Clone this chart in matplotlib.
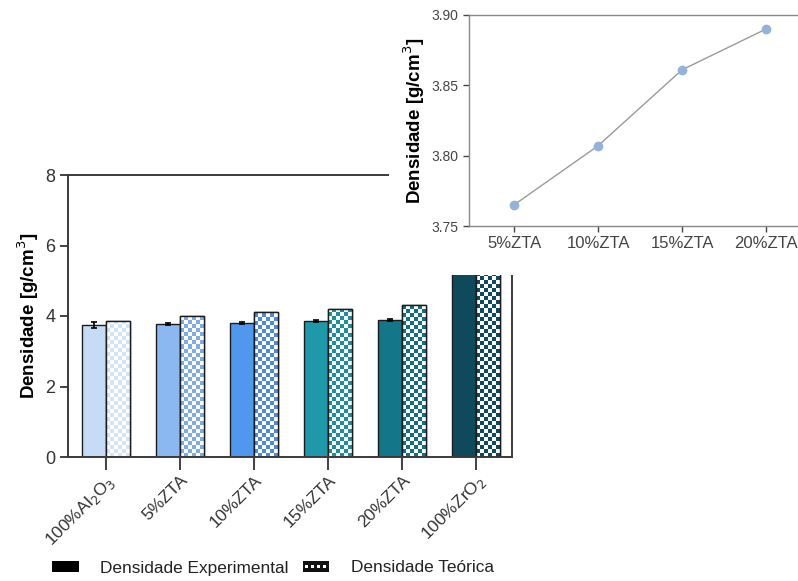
import numpy as np
import matplotlib
matplotlib.use("Agg")
import matplotlib.pyplot as plt
from matplotlib.patches import Patch, Rectangle
from matplotlib.legend_handler import HandlerBase

plt.rcParams['font.family'] = ['Liberation Sans', 'DejaVu Sans']

# bar chart data
categories = ["100%Al$_2$O$_3$", "5%ZTA", "10%ZTA", "15%ZTA", "20%ZTA", "100%ZrO$_2$"]
dens_exp = [3.75, 3.765, 3.807, 3.861, 3.890, 5.95]
dens_exp_err = [0.09, 0.03, 0.03, 0.02, 0.02, 0.0]
dens_teo = [3.86, 4.01, 4.10, 4.21, 4.31, 6.05]
exp_colors = ["#c6dcf6", "#8cb8f2", "#5098ee", "#1f98a9", "#137689", "#0e4a5c"]
teo_colors = ["#d3e4f9", "#7eaceb", "#4a8ae2", "#1a8f9e", "#126f82", "#0e4a5c"]

# inset data
inset_labels = ["5%ZTA", "10%ZTA", "15%ZTA", "20%ZTA"]
inset_vals = [3.765, 3.807, 3.861, 3.890]

W, H = 798, 581
fig = plt.figure(figsize=(W / 100, H / 100), dpi=100)

def px_box(x0, y0, x1, y1):
    # pixel box (top-left origin) -> figure fraction [l, b, w, h]
    return [x0 / W, 1 - y1 / H, (x1 - x0) / W, (y1 - y0) / H]

ax = fig.add_axes(px_box(68, 175, 512, 457))
ax.set_zorder(0)

x = np.arange(len(categories))
bw = 0.32
ax.bar(x - bw / 2, dens_exp, bw, color=exp_colors, edgecolor="#1b1b1b", linewidth=1.0, zorder=2)
ax.errorbar(x - bw / 2, dens_exp, yerr=dens_exp_err, fmt="none", ecolor="black",
            elinewidth=1.2, capsize=2.5, capthick=1.2, zorder=3)
teo_bars = ax.bar(x + bw / 2, dens_teo, bw, color="white", edgecolor="#1b1b1b", linewidth=1.0, zorder=2)

# checkerboard fill for the theoretical bars
px_per_x = (512 - 68) / 6.0
px_per_y = (457 - 175) / 8.0
sq = 4.0
for bar, c in zip(teo_bars, teo_colors):
    x0, w, h = bar.get_x(), bar.get_width(), bar.get_height()
    nx = int(round(w * px_per_x / sq))
    ny = int(np.ceil(h * px_per_y / sq))
    rgb = np.array(matplotlib.colors.to_rgb(c))
    grid = (np.add.outer(np.arange(ny), np.arange(nx)) % 2).astype(float)
    img = np.ones((ny, nx, 3))
    img[grid == 1] = rgb
    top = ny * sq / px_per_y
    im = ax.imshow(img, extent=(x0, x0 + w, 0, top), origin="lower",
                   interpolation="nearest", aspect="auto", zorder=2.1)
    im.set_clip_path(bar)
    ax.bar(bar.get_x() + w / 2, h, w, fill=False, edgecolor="#1b1b1b", linewidth=1.0, zorder=2.2)

ax.set_xlim(-0.514, 5.486)
ax.set_ylim(0, 8)
ax.set_yticks([0, 2, 4, 6, 8])
ax.set_xticks(x)
ax.set_xticklabels(categories, rotation=45, ha="right", rotation_mode="anchor", fontsize=12.5, color="#222")
ax.tick_params(axis="y", labelsize=13, colors="#333", length=6, width=1.3, pad=3)
ax.tick_params(axis="x", length=9, width=1.3, colors="#333", pad=2)
for s in ax.spines.values():
    s.set_linewidth(1.4)
    s.set_color("#3a3a3a")
ax.set_ylabel("Densidade [g/cm$^3$]", fontsize=13.5, fontweight="bold", labelpad=3)

# white block behind the inset
cover = fig.add_axes(px_box(389, 0, 798, 275))
cover.set_zorder(1)
cover.axis("off")
cover.add_patch(Rectangle((0, 0), 1, 1, transform=cover.transAxes, color="white"))

# inset line chart
ins = fig.add_axes(px_box(469, 15, 798, 226))
ins.set_zorder(2)
xi = np.arange(len(inset_labels))
ins.plot(xi, inset_vals, color="#9a9a9a", linewidth=1.0, marker="o", markersize=6,
         markerfacecolor="#93b3dc", markeredgecolor="#93b3dc", zorder=3)
ins.set_xlim(-0.536, 3.381)
ins.set_ylim(3.75, 3.90)
ins.set_yticks([3.75, 3.80, 3.85, 3.90])
ins.set_yticklabels(["3.75", "3.80", "3.85", "3.90"])
ins.set_xticks(xi)
ins.set_xticklabels(inset_labels)
ins.tick_params(axis="y", labelsize=10, colors="#444", length=4, width=1.0)
ins.tick_params(axis="x", labelsize=12, colors="#444", length=4, width=1.0)
ins.spines["right"].set_visible(False)
for s in ["left", "top", "bottom"]:
    ins.spines[s].set_color("#888888")
    ins.spines[s].set_linewidth(1.0)
ins.set_ylabel("Densidade [g/cm$^3$]", fontsize=13.5, fontweight="bold", labelpad=3)


class CheckerHandler(HandlerBase):
    # black box with a row of white squares, like the original legend key
    def create_artists(self, legend, orig_handle, xdescent, ydescent, width, height, fontsize, trans):
        arts = [Rectangle((-xdescent, -ydescent), width, height, facecolor="#111111",
                          edgecolor="none", transform=trans)]
        n = 9
        cw = width / n
        ch = height / 3
        for i in range(1, n - 1):
            if i % 2 == 1:
                arts.append(Rectangle((-xdescent + i * cw, -ydescent + ch), cw, ch,
                                      facecolor="white", edgecolor="none", transform=trans))
        return arts


# legend at the bottom
h_exp = Patch(facecolor="black", edgecolor="black", linewidth=0)
h_teo = Patch(facecolor="#111111")
fig.legend([h_exp, h_teo], ["Densidade Experimental", "Densidade Teórica"],
           handler_map={h_teo: CheckerHandler()},
           loc="center left", bbox_to_anchor=(52 / W, 1 - 568 / H), ncol=2, frameon=False,
           borderpad=0, borderaxespad=0, labelcolor="#222",
           fontsize=12.4, handlelength=1.55, handleheight=0.55, columnspacing=0.8, handletextpad=1.25)

fig.savefig("out.png", dpi=100)
